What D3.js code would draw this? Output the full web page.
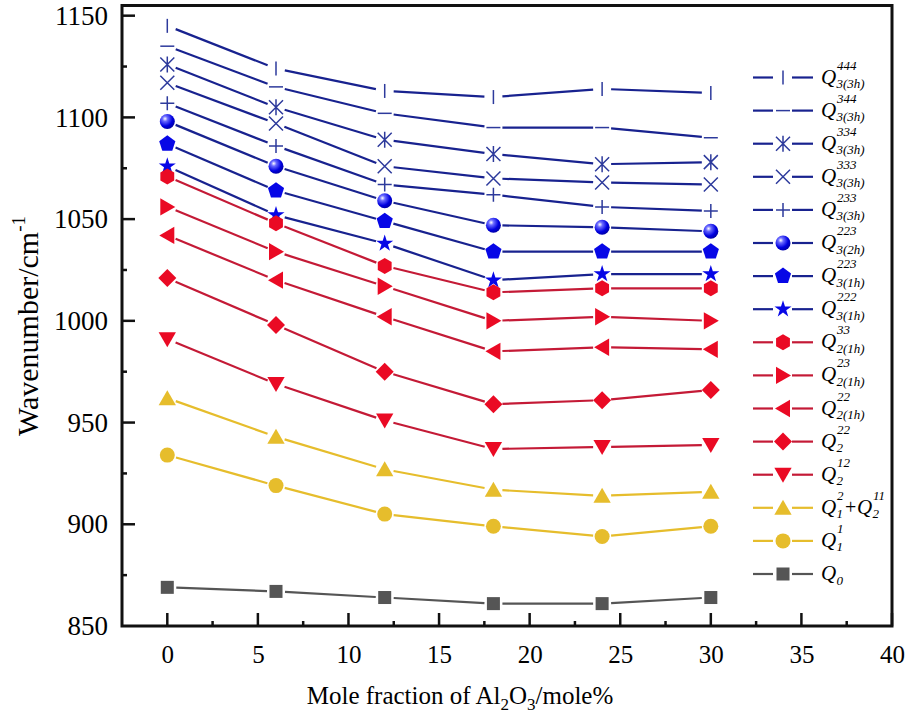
<!DOCTYPE html>
<html>
<head>
<meta charset="utf-8">
<script src="https://cdn.jsdelivr.net/npm/d3@7"></script>
<style>
  body { margin: 0; background: #fff; }
  svg text { font-family: "Liberation Serif", "Times New Roman", Tinos, "DejaVu Serif", serif; fill: #000; }
</style>
</head>
<body>
<div id="chart"></div>
<script>
// x values: mole fraction of Al2O3
var xValues = [0, 6, 12, 18, 24, 30];

// wavenumbers (cm-1)
var q444_3h = [1145, 1124, 1113, 1110, 1114, 1112];
var q344_3h = [1135, 1115, 1102, 1095, 1095, 1090];
var q334_3h = [1126, 1105, 1089, 1082, 1077, 1078];
var q333_3h = [1117, 1097, 1076, 1070, 1068, 1067];
var q233_3h = [1107, 1086, 1067, 1062, 1056, 1054];
var q223_2h = [1098, 1076, 1059, 1047, 1046, 1044];
var q223_1h = [1087, 1064, 1049, 1034, 1034, 1034];
var q222_1h = [1076, 1052, 1038, 1020, 1023, 1023];
var q33_1h = [1071, 1048, 1027, 1014, 1016, 1016];
var q23_1h = [1056, 1034, 1017, 1000, 1002, 1000];
var q22_1h = [1042, 1020, 1002, 985, 987, 986];
var q22 = [1021, 998, 975, 959, 961, 966];
var q12 = [991, 969, 951, 937, 938, 939];
var q1q11 = [962, 943, 927, 917, 914, 916];
var q1 = [934, 919, 905, 899, 894, 899];
var q0 = [869, 867, 864, 861, 861, 864];

var xTicks = [0, 5, 10, 15, 20, 25, 30, 35, 40];
var yTicks = [850, 900, 950, 1000, 1050, 1100, 1150];

// colours
var navyLine = "#18228f", blueFill = "#0707e6", thinBlue = "#2d3a9c";
var redLine = "#c41a36", redFill = "#ea0a24";
var yellow = "#e6bd2c", gray = "#555555";

// series, top of legend first
var series = [
  { data: q444_3h, sup: "444", sub: "3(3h)", line: navyLine, mark: "vbar", fill: thinBlue },
  { data: q344_3h, sup: "344", sub: "3(3h)", line: navyLine, mark: "hbar", fill: thinBlue },
  { data: q334_3h, sup: "334", sub: "3(3h)", line: navyLine, mark: "aster", fill: thinBlue },
  { data: q333_3h, sup: "333", sub: "3(3h)", line: navyLine, mark: "cross", fill: thinBlue },
  { data: q233_3h, sup: "233", sub: "3(3h)", line: navyLine, mark: "plus", fill: thinBlue },
  { data: q223_2h, sup: "223", sub: "3(2h)", line: navyLine, mark: "sphere", fill: blueFill },
  { data: q223_1h, sup: "223", sub: "3(1h)", line: navyLine, mark: "pentagon", fill: blueFill },
  { data: q222_1h, sup: "222", sub: "3(1h)", line: navyLine, mark: "star", fill: blueFill },
  { data: q33_1h, sup: "33", sub: "2(1h)", line: redLine, mark: "hexagon", fill: redFill },
  { data: q23_1h, sup: "23", sub: "2(1h)", line: redLine, mark: "triRight", fill: redFill },
  { data: q22_1h, sup: "22", sub: "2(1h)", line: redLine, mark: "triLeft", fill: redFill },
  { data: q22, sup: "22", sub: "2", line: redLine, mark: "diamond", fill: redFill },
  { data: q12, sup: "12", sub: "2", line: redLine, mark: "triDown", fill: redFill },
  { data: q1q11, sup: "2", sub: "1", sup2: "11", sub2: "2", line: yellow, mark: "triUp", fill: yellow },
  { data: q1, sup: "1", sub: "1", line: yellow, mark: "circle", fill: yellow },
  { data: q0, sup: "", sub: "0", line: gray, mark: "square", fill: gray }
];

var serifFont = "Liberation Serif, Times New Roman, Tinos, DejaVu Serif, serif";
var svgWidth = 909, svgHeight = 722;

var svg = d3.select("#chart")
  .append("svg")
  .attr("width", svgWidth)
  .attr("height", svgHeight)
  .attr("font-family", serifFont);

// gradient for the ball marker
var grad = svg.append("defs").append("radialGradient")
  .attr("id", "ball")
  .attr("cx", "35%").attr("cy", "32%").attr("r", "70%");
grad.append("stop").attr("offset", "0%").attr("stop-color", "#ffffff");
grad.append("stop").attr("offset", "25%").attr("stop-color", "#6a6aff");
grad.append("stop").attr("offset", "70%").attr("stop-color", "#0000e0");
grad.append("stop").attr("offset", "100%").attr("stop-color", "#0000a8");

var xScale = d3.scaleLinear().domain([-2.5, 40]).range([122, 892]);
var yScale = d3.scaleLinear().domain([850, 1155]).range([626, 5.5]);

// polygon helper
function polygon(n, r, rot) {
  var pts = [];
  for (var i = 0; i < n; i++) {
    var a = rot + i * 2 * Math.PI / n;
    pts.push([r * Math.cos(a), r * Math.sin(a)]);
  }
  return "M" + pts.map(p => p.join(",")).join("L") + "Z";
}

// draw one marker into a group at (cx, cy)
function drawMarker(g, type, cx, cy, color) {
  var m = g.append("g").attr("transform", `translate(${cx},${cy})`);
  var h = 7;
  if (type == "vbar") {
    m.append("path").attr("d", `M0,${-h}V${h}`);
  } else if (type == "hbar") {
    m.append("path").attr("d", `M${-h},0H${h}`);
  } else if (type == "plus") {
    m.append("path").attr("d", `M0,${-h}V${h}M${-h},0H${h}`);
  } else if (type == "cross") {
    m.append("path").attr("d", `M${-h},${-h}L${h},${h}M${-h},${h}L${h},${-h}`);
  } else if (type == "aster") {
    m.append("path").attr("d", `M0,${-h - 1}V${h + 1}M${-h},${-h}L${h},${h}M${-h},${h}L${h},${-h}`);
  } else if (type == "sphere") {
    m.append("circle").attr("r", 7.5).attr("fill", "url(#ball)");
  } else if (type == "circle") {
    m.append("circle").attr("r", 7.5).attr("fill", color);
  } else if (type == "square") {
    m.append("rect").attr("x", -6.5).attr("y", -6.5).attr("width", 13).attr("height", 13).attr("fill", color);
  } else if (type == "pentagon") {
    m.append("path").attr("d", polygon(5, 8.5, -Math.PI / 2)).attr("fill", color);
  } else if (type == "hexagon") {
    m.append("path").attr("d", polygon(6, 8, -Math.PI / 2)).attr("fill", color);
  } else if (type == "star") {
    m.append("path").attr("d", d3.symbol(d3.symbolStar, 90)()).attr("fill", color);
  } else if (type == "diamond") {
    m.append("path").attr("d", polygon(4, 9, 0)).attr("fill", color);
  } else if (type == "triUp") {
    m.append("path").attr("d", polygon(3, 10, -Math.PI / 2)).attr("fill", color).attr("transform", "translate(0,2)");
  } else if (type == "triDown") {
    m.append("path").attr("d", polygon(3, 10, Math.PI / 2)).attr("fill", color).attr("transform", "translate(0,-2)");
  } else if (type == "triRight") {
    m.append("path").attr("d", polygon(3, 10, 0)).attr("fill", color).attr("transform", "translate(-2,0)");
  } else if (type == "triLeft") {
    m.append("path").attr("d", polygon(3, 10, Math.PI)).attr("fill", color).attr("transform", "translate(2,0)");
  }
  // thin line markers are stroked, not filled
  m.selectAll("path").filter(function() { return !this.getAttribute("fill"); })
    .attr("fill", "none")
    .attr("stroke", color)
    .attr("stroke-width", 1.5);
}

// lines with gaps round each marker
var gap = 9;
var plot = svg.append("g");

series.forEach(function(s) {
  var pts = s.data.map((v, i) => [xScale(xValues[i]), yScale(v)]);
  for (var i = 0; i < pts.length - 1; i++) {
    var p = pts[i], q = pts[i + 1];
    var dx = q[0] - p[0], dy = q[1] - p[1];
    var len = Math.sqrt(dx * dx + dy * dy);
    var ux = dx / len, uy = dy / len;
    plot.append("line")
      .attr("x1", p[0] + ux * gap).attr("y1", p[1] + uy * gap)
      .attr("x2", q[0] - ux * gap).attr("y2", q[1] - uy * gap)
      .attr("stroke", s.line)
      .attr("stroke-width", 2.2);
  }
});

series.forEach(function(s) {
  s.data.forEach(function(v, i) {
    drawMarker(plot, s.mark, xScale(xValues[i]), yScale(v), s.fill);
  });
});

// axes: ticks drawn separately, pointing inward
var axisColor = "#111";
var xAxis = d3.axisBottom(xScale).tickValues(xTicks).tickSize(0).tickPadding(19).tickFormat(d3.format("d"));
var xAxisG = svg.append("g")
  .attr("transform", `translate(0, ${yScale(850)})`)
  .call(xAxis);
xAxisG.select(".domain").remove();
xAxisG.attr("font-family", serifFont).attr("font-size", 25);
xAxisG.selectAll("text").attr("fill", "#111");

var yAxis = d3.axisLeft(yScale).tickValues(yTicks).tickSize(0).tickPadding(14).tickFormat(d3.format("d"));
var yAxisG = svg.append("g")
  .attr("transform", `translate(${xScale(-2.5)}, 0)`)
  .call(yAxis);
yAxisG.select(".domain").remove();
yAxisG.attr("font-family", serifFont).attr("font-size", 27);
yAxisG.selectAll("text").attr("fill", "#111");

// tick marks (major and minor)
var ticksG = svg.append("g").attr("stroke", axisColor).attr("stroke-width", 2.5);
d3.range(0, 40.01, 2.5).forEach(function(v) {
  var major = v % 5 == 0;
  ticksG.append("line")
    .attr("x1", xScale(v)).attr("x2", xScale(v))
    .attr("y1", yScale(850)).attr("y2", yScale(850) - (major ? 13 : 5));
});
d3.range(875, 1151, 25).forEach(function(v) {
  var major = v % 50 == 0;
  ticksG.append("line")
    .attr("x1", xScale(-2.5)).attr("x2", xScale(-2.5) + (major ? 13 : 5))
    .attr("y1", yScale(v)).attr("y2", yScale(v));
});

// frame
svg.append("rect")
  .attr("x", xScale(-2.5)).attr("y", yScale(1155))
  .attr("width", xScale(40) - xScale(-2.5))
  .attr("height", yScale(850) - yScale(1155))
  .attr("fill", "none")
  .attr("stroke", axisColor)
  .attr("stroke-width", 3);

// axis titles
var yTitle = svg.append("text")
  .attr("transform", "translate(38, 326) rotate(-90)")
  .attr("text-anchor", "middle")
  .attr("font-size", 30);
yTitle.append("tspan").text("Wavenumber/cm");
yTitle.append("tspan").attr("dy", -13).attr("font-size", 19).text("-1");

var xTitle = svg.append("text")
  .attr("x", 460).attr("y", 704)
  .attr("text-anchor", "middle")
  .attr("font-size", 25);
xTitle.append("tspan").text("Mole fraction of Al");
xTitle.append("tspan").attr("dy", 6).attr("font-size", 17).text("2");
xTitle.append("tspan").attr("dy", -6).text("O");
xTitle.append("tspan").attr("dy", 6).attr("font-size", 17).text("3");
xTitle.append("tspan").attr("dy", -6).text("/mole%");

// legend: Q with stacked superscript and subscript
function legendQ(g, x, sup, sub) {
  g.append("text").attr("x", x).attr("y", 6).attr("font-size", 21).attr("font-style", "italic").text("Q");
  g.append("text").attr("x", x + 16).attr("y", -8).attr("font-size", 13).attr("font-style", "italic").text(sup);
  g.append("text").attr("x", x + 15.5).attr("y", 10.5).attr("font-size", 13).attr("font-style", "italic").text(sub);
}

series.forEach(function(s, i) {
  var rowY = 77.5 + i * 33.1;
  var lg = svg.append("g").attr("transform", `translate(0, ${rowY})`);
  lg.append("line").attr("x1", 753).attr("x2", 773).attr("y1", 0).attr("y2", 0)
    .attr("stroke", s.line).attr("stroke-width", 2.2);
  lg.append("line").attr("x1", 792).attr("x2", 813).attr("y1", 0).attr("y2", 0)
    .attr("stroke", s.line).attr("stroke-width", 2.2);
  drawMarker(lg, s.mark, 783, 0, s.fill);

  var tg = lg.append("g").attr("transform", "translate(821, 0)");
  legendQ(tg, 0, s.sup, s.sub);
  if (s.sup2) {
    tg.append("text").attr("x", 24).attr("y", 6).attr("font-size", 20).text("+");
    legendQ(tg, 36, s.sup2, s.sub2);
  }
});
</script>
</body>
</html>
